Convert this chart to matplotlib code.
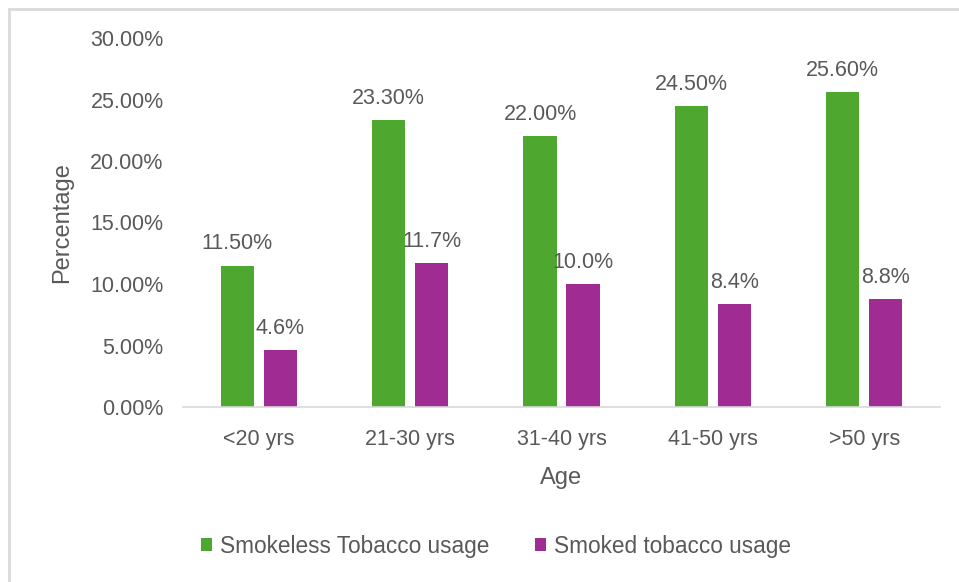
import numpy as np
import matplotlib.pyplot as plt
from matplotlib.patches import Rectangle
from matplotlib.ticker import FuncFormatter

categories = ['<20 yrs', '21-30 yrs', '31-40 yrs', '41-50 yrs', '>50 yrs']
smokeless = [11.5, 23.3, 22.0, 24.5, 25.6]
smoked = [4.6, 11.7, 10.0, 8.4, 8.8]
smokeless_labels = ['11.50%', '23.30%', '22.00%', '24.50%', '25.60%']
smoked_labels = ['4.6%', '11.7%', '10.0%', '8.4%', '8.8%']

plt.rcParams['font.family'] = ['Liberation Sans', 'DejaVu Sans']
txt = '#595959'
green = '#4EA72E'
purple = '#A02B93'
fs = 15.5

fig = plt.figure(figsize=(9.59, 5.82), dpi=100)
ax = fig.add_axes([183/959, 1 - 407/582, (940-183)/959, (407-38)/582])

# light frame around the chart area
fig.patches.append(Rectangle((9/959, -0.1), 1.2, 1 - 9/582 + 0.1,
                             transform=fig.transFigure, fill=False,
                             edgecolor='#D9D9D9', linewidth=2))

x = np.arange(len(categories))
w = 0.22
off = 0.142
b1 = ax.bar(x - off, smokeless, w, color=green, label='Smokeless Tobacco usage')
b2 = ax.bar(x + off, smoked, w, color=purple, label='Smoked tobacco usage')

ax.bar_label(b1, labels=smokeless_labels, padding=8, fontsize=fs, color=txt)
ax.bar_label(b2, labels=smoked_labels, padding=8, fontsize=fs, color=txt)

ax.set_xlim(-0.5, len(categories) - 0.5)
ax.set_ylim(0, 30)
ax.set_yticks(np.arange(0, 31, 5))
ax.yaxis.set_major_formatter(FuncFormatter(lambda v, p: f'{v:.2f}%'))
ax.set_xticks(x)
ax.set_xticklabels(categories)

for s in ['top', 'right', 'left']:
    ax.spines[s].set_visible(False)
ax.spines['bottom'].set_color('#D9D9D9')
ax.spines['bottom'].set_linewidth(1.2)
ax.tick_params(axis='both', length=0, labelsize=fs, labelcolor=txt)
ax.tick_params(axis='y', pad=14)
ax.tick_params(axis='x', pad=16)

ax.set_xlabel('Age', fontsize=17, color=txt, labelpad=12)
ax.set_ylabel('Percentage', fontsize=17, color=txt, labelpad=12)

fig.legend(handles=[b1, b2], loc='center', bbox_to_anchor=(496/959, 1 - 546/582),
           ncol=2, frameon=False, fontsize=16.3, labelcolor=txt,
           handlelength=0.5, handleheight=0.5, handletextpad=0.35, columnspacing=2.0)

fig.savefig('out.png', dpi=100)
